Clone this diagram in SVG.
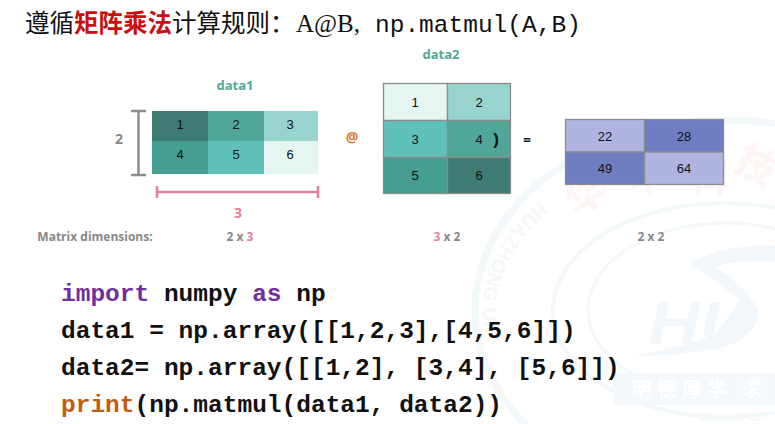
<svg xmlns="http://www.w3.org/2000/svg" width="775" height="424" viewBox="0 0 775 424">
<style>
.t{font-family:"Liberation Sans","Noto Sans CJK SC",sans-serif;font-size:13px;fill:#111;text-anchor:middle}
.l{font-family:"Open Sans","Liberation Sans",sans-serif;font-weight:700;fill:#888;text-anchor:middle;font-size:11.5px}
.c{font-family:"Liberation Mono",monospace;font-weight:700;font-size:24.5px;fill:#111;white-space:pre}
.g{stroke:#8c8c8c;stroke-width:1.3}
.wm{fill:none;stroke:#f3f8fb}
.wr{font-family:"Noto Sans CJK SC",sans-serif;font-size:40px;fill:#fef5f4;font-weight:700;text-anchor:middle}
</style>
<defs><path id="ring" d="M565 185A218 160 0 0 0 565 435"/></defs>
<rect width="775" height="424" fill="#fff"/>
<g id="watermark">
<ellipse cx="725" cy="310" rx="250" ry="190" class="wm" stroke-width="7"/>
<ellipse cx="725" cy="310" rx="172" ry="107" class="wm" stroke-width="4"/>
<ellipse cx="725" cy="310" rx="137" ry="87" class="wm" stroke-width="3"/>
<text font-family="Liberation Sans,sans-serif" font-size="19" fill="#f4f8fb" font-weight="700" letter-spacing="1"><textPath href="#ring" startOffset="30">HUAZHONG UNI</textPath></text>
<path d="M690 263Q720 245 775 245V262Q735 258 715 268Q745 285 758 310Q760 335 720 348Q680 356 633 356Q690 345 715 335L740 300Q715 280 690 263Z" fill="#f2f7fb"/>
<text x="648" y="344" font-family="Liberation Sans,sans-serif" font-size="62" font-weight="700" font-style="italic" fill="#f2f7fb" textLength="104" lengthAdjust="spacingAndGlyphs">HU</text>
<path d="M613 373H775V405H613Z" fill="#f5f9fc"/>
<text x="632" y="397" font-family="Noto Sans CJK SC,sans-serif" font-size="20" font-weight="700" fill="#fff" letter-spacing="5">明德厚学 求</text>
<text x="700" y="421" font-family="Liberation Sans,sans-serif" font-size="11" font-weight="700" fill="#f5f9fc" letter-spacing="0.500">WUHAN CHI</text>
<text class="wr" transform="translate(594 206) rotate(-35)">华</text>
<text class="wr" transform="translate(650 192) rotate(-12)">中</text>
<text class="wr" transform="translate(708 192) rotate(8)">科</text>
<text class="wr" transform="translate(750 178) rotate(28)">技</text>
</g>
<g id="title">
<text x="25" y="32" font-size="24.5" font-family="Noto Sans CJK SC,sans-serif" fill="#111" xml:space="preserve">遵循<tspan fill="#c81010" font-weight="700">矩阵乘法</tspan>计算规则：<tspan x="296" font-family="Liberation Serif,serif" font-size="25">A@B,</tspan><tspan x="375" font-family="Liberation Mono,monospace" font-size="24.500">np.matmul(A,B)</tspan></text>
</g>
<g id="data1">
<text class="l" x="235" y="90" style="font-size:13px;fill:#4fa89a">data1</text>
<rect x="152" y="111" width="56" height="30" fill="#3e7b72"/><rect x="208" y="111" width="56" height="30" fill="#50a697"/><rect x="264" y="111" width="54" height="30" fill="#97d4ce"/>
<rect x="152" y="141" width="56" height="33" fill="#459e90"/><rect x="208" y="141" width="56" height="33" fill="#5fc1b9"/><rect x="264" y="141" width="54" height="33" fill="#e4f5f2"/>
<text class="t" x="180" y="129">1</text><text class="t" x="236" y="129">2</text><text class="t" x="290" y="129">3</text>
<text class="t" x="180" y="159">4</text><text class="t" x="236" y="159">5</text><text class="t" x="290" y="159">6</text>
</g>
<g id="dim-row">
<path d="M131 111H146M138.500 111V175M131 175H146" fill="none" stroke="#8c8c8c" stroke-width="2.500"/>
<text class="l" x="119" y="144" style="font-size:14px">2</text>
</g>
<g id="dim-col">
<path d="M157 186V198M157 192H318M318 186V198" fill="none" stroke="#e17ea2" stroke-width="2.500"/>
<text class="l" x="238" y="218" style="font-size:14px;fill:#e17ea2">3</text>
</g>
<g id="op-at"><text class="l" x="352" y="142" style="font-size:14px;fill:#d9771f">@</text></g>
<g id="data2">
<text class="l" x="441" y="59" style="font-size:13px;fill:#4fa89a">data2</text>
<rect class="g" x="383.500" y="83.500" width="64" height="37" fill="#e4f5f2"/><rect class="g" x="447.500" y="83.500" width="63" height="37" fill="#97d4ce"/>
<rect class="g" x="383.500" y="120.500" width="64" height="37" fill="#5fc1b9"/><rect class="g" x="447.500" y="120.500" width="63" height="37" fill="#50a697"/>
<rect class="g" x="383.500" y="157.500" width="64" height="36" fill="#459e90"/><rect class="g" x="447.500" y="157.500" width="63" height="36" fill="#3e7b72"/>
<text class="t" x="415" y="107">1</text><text class="t" x="479" y="107">2</text>
<text class="t" x="415" y="144">3</text><text class="t" x="479" y="144">4</text>
<text class="t" x="415" y="180">5</text><text class="t" x="479" y="180">6</text>
<text x="496" y="145" font-family="Liberation Sans,sans-serif" font-weight="700" font-size="17" fill="#111" text-anchor="middle">)</text>
</g>
<g id="op-eq"><text class="l" x="527" y="145" style="font-size:14px;fill:#222">=</text></g>
<g id="result">
<rect class="g" x="565.500" y="119.500" width="79" height="32.500" fill="#b0b4e0"/><rect class="g" x="644.500" y="119.500" width="79" height="32.500" fill="#6f7dc2"/>
<rect class="g" x="565.500" y="152" width="79" height="32.500" fill="#6f7dc2"/><rect class="g" x="644.500" y="152" width="79" height="32.500" fill="#b0b4e0"/>
<text class="t" x="605" y="141">22</text><text class="t" x="684" y="141">28</text>
<text class="t" x="605" y="173">49</text><text class="t" x="684" y="173">64</text>
</g>
<g id="dimensions">
<text class="l" x="95" y="241" style="font-size:12px">Matrix dimensions:</text>
<text class="l" x="240" y="241" style="font-size:12px">2 x <tspan fill="#e17ea2">3</tspan></text>
<text class="l" x="447" y="241" style="font-size:12px"><tspan fill="#e17ea2">3</tspan> x 2</text>
<text class="l" x="651" y="241" style="font-size:12px">2 x 2</text>
</g>
<g id="code">
<text class="c" x="61" y="301"><tspan fill="#7030a0">import</tspan> numpy <tspan fill="#7030a0">as</tspan> np</text>
<text class="c" x="61" y="338">data1 = np.array([[1,2,3],[4,5,6]])</text>
<text class="c" x="61" y="375">data2= np.array([[1,2], [3,4], [5,6]])</text>
<text class="c" x="61" y="412"><tspan fill="#c55a11">print</tspan>(np.matmul(data1, data2))</text>
</g>
</svg>
